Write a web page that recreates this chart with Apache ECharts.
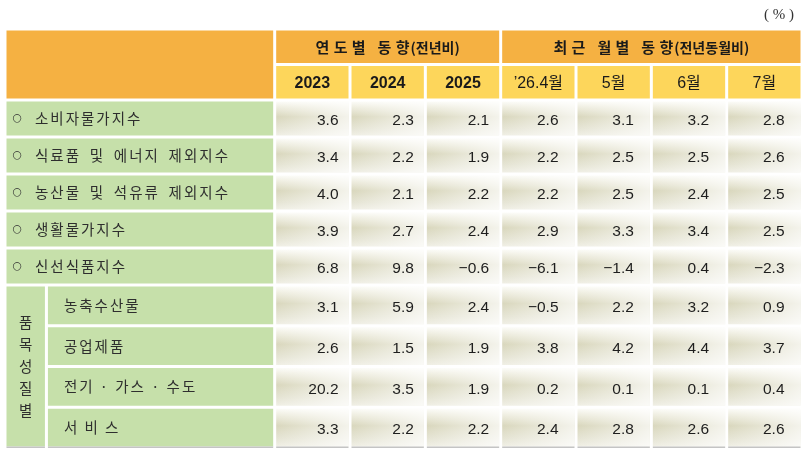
<!DOCTYPE html>
<html>
<head>
    <meta charset="utf-8" />
    <title>소비자물가 동향</title>
    <script src="https://cdn.jsdelivr.net/npm/echarts@6/dist/echarts.min.js"></script>
    <style>
        html, body { margin: 0; padding: 0; background: #fff; }
        #main { width: 807px; height: 454px; }
    </style>
</head>
<body>
    <div id="main"></div>
    <script>
        // 표 데이터
        var unitText = '( % )';
        var groupHeads = ['연도별 동향(전년비)', '최근 월별 동향(전년동월비)'];
        var yearCols = ['2023', '2024', '2025'];
        var monthCols = ['\u201926.4월', '5월', '6월', '7월'];
        var mainRows = ['소비자물가지수', '식료품 및 에너지 제외지수', '농산물 및 석유류 제외지수', '생활물가지수', '신선식품지수'];
        var mainValues = [
            [3.6, 2.3, 2.1, 2.6, 3.1, 3.2, 2.8],
            [3.4, 2.2, 1.9, 2.2, 2.5, 2.5, 2.6],
            [4.0, 2.1, 2.2, 2.2, 2.5, 2.4, 2.5],
            [3.9, 2.7, 2.4, 2.9, 3.3, 3.4, 2.5],
            [6.8, 9.8, -0.6, -6.1, -1.4, 0.4, -2.3]
        ];
        var subGroup = '품목성질별';
        var subRows = ['농축수산물', '공업제품', '전기 · 가스 · 수도', '서 비 스'];
        var subValues = [
            [3.1, 5.9, 2.4, -0.5, 2.2, 3.2, 0.9],
            [2.6, 1.5, 1.9, 3.8, 4.2, 4.4, 3.7],
            [20.2, 3.5, 1.9, 0.2, 0.1, 0.1, 0.4],
            [3.3, 2.2, 2.2, 2.4, 2.8, 2.6, 2.6]
        ];

        // 레이아웃 / 스타일
        var columns = yearCols.concat(monthCols);
        var XMIN = -3.58;     // 항목 열 왼쪽 끝 (데이터 열 1칸 = 1)
        var SUBX = -3.03;     // 품목성질별 열 경계
        var GAP = 1.5;
        var ORANGE = '#f5b142';
        var YELLOW = '#fdd65b';
        var GREEN = '#c6e0aa';
        var KR = '"Noto Sans CJK KR"';
        var NUM = '"Liberation Sans", "Noto Sans CJK KR"';

        var ctx2d = document.createElement('canvas').getContext('2d');

        // 자간 적용 글자 배치
        function layoutRuns(runs) {
            var glyphs = [], x = 0;
            runs.forEach(function (run, k) {
                ctx2d.font = run.font;
                var chars = Array.from(run.text);
                chars.forEach(function (ch, i) {
                    glyphs.push({ ch: ch, dx: x, font: run.font });
                    x += ctx2d.measureText(ch).width;
                    if (ch === ' ') x += run.space || 0;
                    if (i < chars.length - 1) x += run.track;
                });
                if (k < runs.length - 1) x += 1;
            });
            return { glyphs: glyphs, width: x };
        }

        function glyphChildren(lay, x0, cy, color) {
            return lay.glyphs.map(function (g) {
                return {
                    type: 'text',
                    style: { text: g.ch, x: x0 + g.dx, y: cy, font: g.font, fill: color, align: 'left', verticalAlign: 'middle' }
                };
            });
        }

        function fmt(v) {
            return (v < 0 ? '\u2212' : '') + Math.abs(v).toFixed(1);
        }

        function dataFill() {
            return new echarts.graphic.LinearGradient(0, 0, 0, 1, [
                { offset: 0, color: '#fcfcf8' },
                { offset: 0.14, color: '#f1f0e4' },
                { offset: 0.45, color: '#d9d7bd' },
                { offset: 0.8, color: '#e6e5d5' },
                { offset: 1, color: '#f0efe5' }
            ]);
        }
        function dataGloss() {
            return new echarts.graphic.LinearGradient(0, 0, 1, 0, [
                { offset: 0, color: 'rgba(255,255,255,0)' },
                { offset: 1, color: 'rgba(255,255,255,0.7)' }
            ]);
        }

        // 셀 목록 만들기
        var headCells = [], topCells = [], botCells = [];

        headCells.push({ x0: XMIN, x1: 0, row: 0, span: 2, kind: 'blank', fill: ORANGE });
        headCells.push({ x0: 0, x1: yearCols.length, row: 0, span: 1, kind: 'group', fill: ORANGE, text: groupHeads[0] });
        headCells.push({ x0: yearCols.length, x1: columns.length, row: 0, span: 1, kind: 'group', fill: ORANGE, text: groupHeads[1] });
        columns.forEach(function (c, i) {
            headCells.push({ x0: i, x1: i + 1, row: 1, span: 1, kind: i < yearCols.length ? 'year' : 'month', fill: YELLOW, text: c });
        });

        mainRows.forEach(function (name, r) {
            topCells.push({ x0: XMIN, x1: 0, row: r, span: 1, kind: 'main', fill: GREEN, text: name });
            mainValues[r].forEach(function (v, i) {
                topCells.push({ x0: i, x1: i + 1, row: r, span: 1, kind: 'num', col: i, text: fmt(v) });
            });
        });

        botCells.push({ x0: XMIN, x1: SUBX, row: 0, span: subRows.length, kind: 'vert', fill: GREEN, text: subGroup, shadow: true });
        subRows.forEach(function (name, r) {
            var last = r === subRows.length - 1;
            botCells.push({ x0: SUBX, x1: 0, row: r, span: 1, kind: 'sub', fill: GREEN, text: name, shadow: last });
            subValues[r].forEach(function (v, i) {
                botCells.push({ x0: i, x1: i + 1, row: r, span: 1, kind: 'num', col: i, text: fmt(v), shadow: last });
            });
        });

        function makeRender(cells) {
            return function (params, api) {
                var c = cells[params.dataIndex];
                var p0 = api.coord([api.value(0), api.value(2)]);
                var p1 = api.coord([api.value(1), api.value(2)]);
                var band = api.size([0, 1])[1];
                var x = p0[0] + GAP, w = p1[0] - p0[0] - 2 * GAP;
                var y = p0[1] - band / 2 + GAP, h = band * api.value(3) - 2 * GAP;
                var cx = x + w / 2, cy = y + h / 2;
                var children = [];

                if (c.kind === 'num') {
                    children.push({ type: 'rect', shape: { x: x, y: y, width: w, height: h }, style: { fill: dataFill() } });
                    children.push({ type: 'rect', shape: { x: x, y: y, width: w, height: h }, style: { fill: dataGloss() } });
                } else {
                    children.push({ type: 'rect', shape: { x: x, y: y, width: w, height: h }, style: { fill: c.fill } });
                }
                if (c.shadow) {
                    children.push({ type: 'rect', shape: { x: x, y: y + h, width: w, height: 1.6 }, style: { fill: '#c4c4c4' } });
                }

                if (c.kind === 'group') {
                    var cut = c.text.indexOf('(');
                    var lay = layoutRuns([
                        { text: c.text.slice(0, cut), font: 'bold 15px ' + KR, track: 4.3 },
                        { text: c.text.slice(cut), font: 'bold 14px ' + KR, track: 0 }
                    ]);
                    children = children.concat(glyphChildren(lay, cx - lay.width / 2, cy + 0.5, '#1a1a1a'));
                } else if (c.kind === 'year') {
                    children.push({ type: 'text', style: { text: c.text, x: cx, y: cy + 1.5, font: 'bold 16px ' + NUM, fill: '#1a1a1a', align: 'center', verticalAlign: 'middle' } });
                } else if (c.kind === 'month') {
                    children.push({ type: 'text', style: { text: c.text, x: cx, y: cy + 1.5, font: '16px ' + NUM, fill: '#1a1a1a', align: 'center', verticalAlign: 'middle' } });
                } else if (c.kind === 'main') {
                    children.push({ type: 'text', style: { text: '\u25cb', x: x + 6, y: cy, font: '11px "DejaVu Sans"', fill: '#333', align: 'left', verticalAlign: 'middle' } });
                    var lm = layoutRuns([{ text: c.text, font: '14.5px ' + KR, track: 2, space: 3.5 }]);
                    children = children.concat(glyphChildren(lm, x + 28.5, cy, '#2e2e2e'));
                } else if (c.kind === 'sub') {
                    var ls = layoutRuns([{ text: c.text, font: '14.5px ' + KR, track: 2 }]);
                    children = children.concat(glyphChildren(ls, x + 16, cy, '#2e2e2e'));
                } else if (c.kind === 'vert') {
                    var chars = Array.from(c.text);
                    chars.forEach(function (ch, i) {
                        children.push({ type: 'text', style: { text: ch, x: cx, y: cy + (i - (chars.length - 1) / 2) * 22, font: '14.5px ' + KR, fill: '#2e2e2e', align: 'center', verticalAlign: 'middle' } });
                    });
                } else if (c.kind === 'num') {
                    var pad = c.col < yearCols.length ? 10 : 16;
                    children.push({ type: 'text', style: { text: c.text, x: x + w - pad, y: cy + 2.5, font: '15.5px ' + NUM, fill: '#1e1e1e', align: 'right', verticalAlign: 'middle' } });
                }
                return { type: 'group', children: children };
            };
        }

        function toData(cells) {
            return cells.map(function (c) { return [c.x0, c.x1, c.row, c.span]; });
        }

        var chart = echarts.init(document.getElementById('main'));
        var grids = [
            { left: 5, right: 5, top: 29, height: 71 },
            { left: 5, right: 5, top: 100, height: 185 },
            { left: 5, right: 5, top: 285, height: 163 }
        ];
        var yData = [['group', 'column'], mainRows, subRows];
        var cellSets = [headCells, topCells, botCells];

        chart.setOption({
            backgroundColor: '#ffffff',
            animation: false,
            title: {
                text: unitText,
                right: 8,
                top: 3,
                textStyle: { fontFamily: '"Liberation Serif"', fontSize: 15, fontWeight: 'normal', color: '#333' }
            },
            grid: grids,
            xAxis: grids.map(function (g, i) {
                return { type: 'value', gridIndex: i, min: XMIN, max: columns.length, show: false };
            }),
            yAxis: grids.map(function (g, i) {
                return { type: 'category', gridIndex: i, data: yData[i], inverse: true, show: false };
            }),
            series: cellSets.map(function (cells, i) {
                return {
                    type: 'custom',
                    xAxisIndex: i,
                    yAxisIndex: i,
                    encode: { x: [0, 1], y: 2 },
                    renderItem: makeRender(cells),
                    data: toData(cells),
                    silent: true
                };
            })
        });

        window.onresize = function () {
            chart.resize();
        };
    </script>
</body>
</html>
